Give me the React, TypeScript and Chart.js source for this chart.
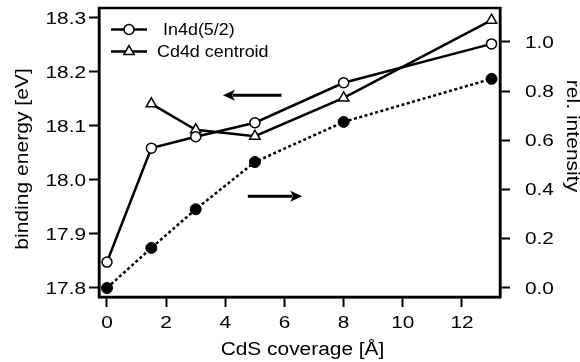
import React, { useEffect, useRef } from 'react';
import { Chart, registerables } from 'chart.js';

Chart.register(...registerables);

// ---- data ----
const coverage = [0, 1.5, 3, 5, 8, 13];
const in4d = [17.848, 18.059, 18.08, 18.106, 18.18, 18.252];
const cdCoverage = [1.5, 3, 5, 8, 13];
const cd4d = [18.141, 18.093, 18.081, 18.152, 18.296];
const relIntensity = [0, 0.163, 0.32, 0.512, 0.675, 0.85];

const xTicks = [0, 2, 4, 6, 8, 10, 12];
const energyTicks = [17.8, 17.9, 18.0, 18.1, 18.2, 18.3];
const intensityTicks = [0, 0.2, 0.4, 0.6, 0.8, 1.0];

const seriesNames = ['In4d(5/2)', 'Cd4d centroid', 'rel. intensity'];
const xTitle = 'CdS coverage [Å]';
const yTitle = 'binding energy [eV]';
const y1Title = 'rel. intensity';

// arrows (in data coords of x and left y axis)
const arrowFromX = [5.9, 4.76];
const arrowToX = [3.92, 6.6];
const arrowY = [18.157, 17.97];

const FONT = '"Liberation Sans", Arial, Helvetica, sans-serif';

function drawText(
  ctx: CanvasRenderingContext2D,
  text: string,
  x: number,
  y: number,
  align: CanvasTextAlign,
  sx: number,
  size: number,
  rot = 0,
  baseline: CanvasTextBaseline = 'alphabetic'
) {
  ctx.save();
  ctx.translate(x, y);
  if (rot) ctx.rotate(rot);
  ctx.scale(sx, 1);
  ctx.font = `${size}px ${FONT}`;
  ctx.textAlign = align;
  ctx.textBaseline = baseline;
  ctx.fillStyle = '#000';
  ctx.fillText(text, 0, 0);
  ctx.restore();
}

function drawMarker(ctx: CanvasRenderingContext2D, style: string, x: number, y: number, r: number, fill: string) {
  ctx.beginPath();
  if (style === 'triangle') {
    for (let i = 0; i < 3; i++) {
      const a = -Math.PI / 2 + (i * 2 * Math.PI) / 3;
      const px = x + Math.cos(a) * r;
      const py = y + Math.sin(a) * r;
      if (i === 0) ctx.moveTo(px, py);
      else ctx.lineTo(px, py);
    }
    ctx.closePath();
  } else {
    ctx.arc(x, y, r, 0, Math.PI * 2);
  }
  ctx.fillStyle = fill;
  ctx.fill();
  ctx.lineWidth = 1.5;
  ctx.strokeStyle = '#000';
  ctx.stroke();
}

const decorPlugin = {
  id: 'decor',
  afterDatasetsDraw(chart: any) {
    const ctx: CanvasRenderingContext2D = chart.ctx;
    const ca = chart.chartArea;
    const xs = chart.scales.x;
    const ys = chart.scales.y;
    const y1s = chart.scales.y1;
    ctx.save();

    // arrows
    for (let i = 0; i < arrowFromX.length; i++) {
      const x0 = xs.getPixelForValue(arrowFromX[i]);
      const x1 = xs.getPixelForValue(arrowToX[i]);
      const py = ys.getPixelForValue(arrowY[i]);
      const dir = Math.sign(x1 - x0);
      const head = 12;
      ctx.beginPath();
      ctx.moveTo(x0, py);
      ctx.lineTo(x1 - dir * head * 0.8, py);
      ctx.lineWidth = 3;
      ctx.strokeStyle = '#000';
      ctx.stroke();
      ctx.beginPath();
      ctx.moveTo(x1, py);
      ctx.lineTo(x1 - dir * head, py - 5.5);
      ctx.lineTo(x1 - dir * head * 0.75, py);
      ctx.lineTo(x1 - dir * head, py + 5.5);
      ctx.closePath();
      ctx.fillStyle = '#000';
      ctx.fill();
    }

    // frame
    ctx.lineWidth = 2.5;
    ctx.strokeStyle = '#000';
    ctx.strokeRect(ca.left, ca.top, ca.right - ca.left, ca.bottom - ca.top);

    // tick labels
    xs.ticks.forEach((t: any) => {
      drawText(ctx, String(t.value), xs.getPixelForValue(t.value), ca.bottom + 31, 'center', 1.3, 16);
    });
    ys.ticks.forEach((t: any) => {
      drawText(ctx, t.value.toFixed(1), ca.left - 13, ys.getPixelForValue(t.value) + 5.7, 'right', 1.3, 16);
    });
    y1s.ticks.forEach((t: any) => {
      drawText(ctx, t.value.toFixed(1), ca.right + 25, y1s.getPixelForValue(t.value) + 5.7, 'left', 1.3, 16);
    });

    // axis titles
    drawText(ctx, xTitle, (ca.left + ca.right) / 2 + 3, ca.bottom + 58, 'center', 1.16, 18);
    drawText(ctx, yTitle, 23, (ca.top + ca.bottom) / 2 + 6.5, 'center', 1.17, 18, -Math.PI / 2, 'middle');
    drawText(ctx, y1Title, 572, (ca.top + ca.bottom) / 2 - 16.5, 'center', 1.17, 18, Math.PI / 2, 'middle');

    // legend
    const rows = [
      { name: seriesNames[0], style: 'circle', r: 5, y: ca.top + 21.5, tx: ca.left + 64 },
      { name: seriesNames[1], style: 'triangle', r: 6, y: ca.top + 43.5, tx: ca.left + 58 },
    ];
    rows.forEach((row) => {
      ctx.beginPath();
      ctx.moveTo(ca.left + 12, row.y);
      ctx.lineTo(ca.left + 48, row.y);
      ctx.lineWidth = 2.5;
      ctx.strokeStyle = '#000';
      ctx.stroke();
      drawMarker(ctx, row.style, ca.left + 30, row.y, row.r, '#fff');
      drawText(ctx, row.name, row.tx, row.y + 5.7, 'left', 1.12, 16);
    });

    ctx.restore();
  },
};

const tickGrid = {
  drawOnChartArea: false,
  drawTicks: true,
  tickLength: 10,
  tickWidth: 2,
  color: '#000',
};
const axisBorder = { display: true, color: '#000', width: 2.5 };

export default function App() {
  const ref = useRef<HTMLCanvasElement | null>(null);

  useEffect(() => {
    if (!ref.current) return;
    const chart = new Chart(ref.current, {
      type: 'line',
      data: {
        datasets: [
          {
            label: seriesNames[0],
            data: coverage.map((x, i) => ({ x, y: in4d[i] })),
            yAxisID: 'y',
            borderColor: '#000',
            borderWidth: 2.5,
            pointStyle: 'circle',
            pointRadius: 5,
            pointBackgroundColor: '#fff',
            pointBorderColor: '#000',
            pointBorderWidth: 1.5,
            tension: 0,
          },
          {
            label: seriesNames[1],
            data: cdCoverage.map((x, i) => ({ x, y: cd4d[i] })),
            yAxisID: 'y',
            borderColor: '#000',
            borderWidth: 2.5,
            pointStyle: 'triangle',
            pointRadius: 6,
            pointBackgroundColor: '#fff',
            pointBorderColor: '#000',
            pointBorderWidth: 1.5,
            tension: 0,
          },
          {
            label: seriesNames[2],
            data: coverage.map((x, i) => ({ x, y: relIntensity[i] })),
            yAxisID: 'y1',
            borderColor: '#000',
            borderWidth: 2.5,
            borderDash: [3, 2.5],
            pointStyle: 'circle',
            pointRadius: 5.5,
            pointBackgroundColor: '#000',
            pointBorderColor: '#000',
            pointBorderWidth: 1,
            tension: 0,
          },
        ],
      },
      options: {
        animation: false,
        responsive: false,
        devicePixelRatio: 1,
        layout: { padding: { top: 8, left: 0, right: 0, bottom: 0 } },
        plugins: { legend: { display: false }, tooltip: { enabled: false } },
        scales: {
          x: {
            type: 'linear',
            min: -0.27,
            max: 13.286,
            ticks: { display: false },
            grid: tickGrid,
            border: axisBorder,
            afterBuildTicks: (s: any) => {
              s.ticks = xTicks.map((v) => ({ value: v }));
            },
            afterFit: (s: any) => {
              s.height = 65;
            },
          },
          y: {
            type: 'linear',
            position: 'left',
            min: 17.7833,
            max: 18.3185,
            ticks: { display: false },
            grid: tickGrid,
            border: axisBorder,
            afterBuildTicks: (s: any) => {
              s.ticks = energyTicks.map((v) => ({ value: v }));
            },
            afterFit: (s: any) => {
              s.width = 99;
            },
          },
          y1: {
            type: 'linear',
            position: 'right',
            min: -0.0366,
            max: 1.138,
            ticks: { display: false },
            grid: tickGrid,
            border: axisBorder,
            afterBuildTicks: (s: any) => {
              s.ticks = intensityTicks.map((v) => ({ value: v }));
            },
            afterFit: (s: any) => {
              s.width = 80;
            },
          },
        },
      },
      plugins: [decorPlugin],
    } as any);
    return () => chart.destroy();
  }, []);

  return (
    <div style={{ position: 'absolute', left: 0, top: 0, width: 580, height: 362, background: '#fff' }}>
      <canvas ref={ref} width={580} height={362} style={{ display: 'block' }} />
    </div>
  );
}
